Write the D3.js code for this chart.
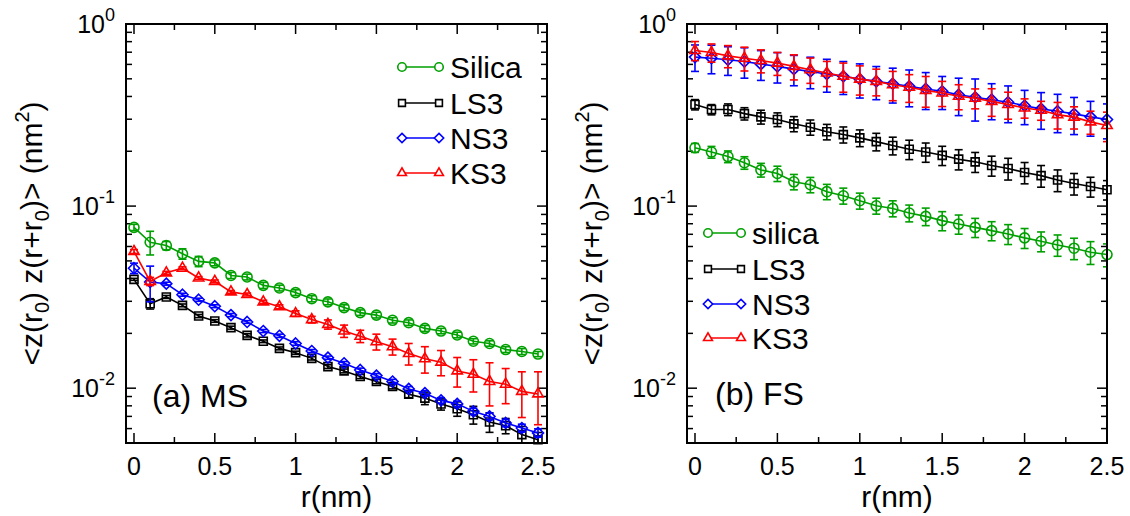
<!DOCTYPE html>
<html><head><meta charset="utf-8">
<script src="https://cdn.jsdelivr.net/npm/d3@7"></script>
<style>
body{margin:0;background:#fff}
svg{display:block}
text{font-family:"Liberation Sans",Arial,Helvetica,sans-serif;fill:#000}
</style>
</head><body>
<svg id="chart" width="1130" height="516"></svg>
<script>
// ---------- data ----------
const rValues = [0,0.1,0.2,0.3,0.4,0.5,0.6,0.7,0.8,0.9,1.0,1.1,1.2,1.3,1.4,1.5,1.6,1.7,1.8,1.9,2.0,2.1,2.2,2.3,2.4,2.5];
const seriesNamesMS = ["Silica","LS3","NS3","KS3"];
const seriesNamesFS = ["silica","LS3","NS3","KS3"];
const seriesColors = ["#00a000","#000000","#0000ff","#ff0000"];
const seriesSymbols = ["circle","square","diamond","triangle"];
const xTickLabels = ["0","0.5","1","1.5","2","2.5"];
const xTickValues = [0,0.5,1,1.5,2,2.5];
const yTickExponents = ["0","-1","-2"];
const yTickValues = [1,0.1,0.01];

// (a) MS
const msSilica = [0.0764,0.0633,0.0607,0.0547,0.0497,0.0488,0.0416,0.0408,0.0367,0.0355,0.0335,0.0310,0.0298,0.0277,0.0260,0.0252,0.0236,0.0229,0.0213,0.0206,0.0196,0.0181,0.0176,0.0163,0.0159,0.0154];
const msSilicaErr = [0.0030,0.0094,0.0032,0.0036,0.0032,0.0018,0.0016,0.0015,0.0014,0.0013,0.0012,0.0012,0.0011,0.0010,0.0009,0.0009,0.0008,0.0008,0.0008,0.0007,0.0007,0.0006,0.0006,0.0006,0.0006,0.0005];
const msLS3 = [0.0396,0.0291,0.0317,0.0285,0.0249,0.0234,0.0215,0.0195,0.0181,0.01654,0.01567,0.01458,0.01314,0.01244,0.01159,0.01088,0.01021,0.00927,0.00882,0.00818,0.00771,0.00715,0.00652,0.00622,0.00556,0.00521];
const msLS3Err = [0.0005,0.0019,0.0006,0.0005,0.0005,0.0004,0.0004,0.0004,0.0003,0.0003,0.0003,0.0003,0.0003,0.0003,0.0003,0.0003,0.0003,0.0004,0.0007,0.0006,0.0007,0.0008,0.0008,0.0006,0.0006,0.0005];
const msNS3 = [0.0456,0.0383,0.0375,0.0326,0.0306,0.0282,0.0252,0.0231,0.0206,0.0194,0.0176,0.0160,0.01471,0.01370,0.01259,0.01173,0.01088,0.00991,0.00939,0.00857,0.0082,0.00746,0.0070,0.00644,0.00604,0.00568];
const msNS3Err = [0.0030,0.0085,0.0007,0.0006,0.0006,0.0005,0.0005,0.0004,0.0004,0.0004,0.0004,0.0003,0.0003,0.0003,0.0003,0.0003,0.0003,0.0003,0.0003,0.0003,0.0003,0.0003,0.0003,0.0003,0.0003,0.0003];
const msKS3 = [0.0563,0.0386,0.0430,0.0456,0.0403,0.0386,0.0338,0.0327,0.0298,0.0280,0.0257,0.0238,0.0224,0.0206,0.0193,0.0180,0.0169,0.0155,0.0145,0.0139,0.01244,0.01193,0.01089,0.01052,0.0096,0.0093];
const msKS3Err = [0.0014,0.0020,0.0008,0.0008,0.0007,0.0007,0.0006,0.0006,0.0006,0.0007,0.0009,0.0010,0.0013,0.0016,0.0015,0.0018,0.0017,0.0021,0.0024,0.0022,0.0023,0.0024,0.0029,0.0023,0.0027,0.0030];

// (b) FS
const fsSilica = [0.209,0.198,0.187,0.173,0.158,0.151,0.136,0.131,0.120,0.114,0.107,0.1004,0.0971,0.0916,0.0878,0.0832,0.0797,0.0764,0.0733,0.0703,0.0669,0.0641,0.0612,0.0587,0.0558,0.0542];
const fsSilicaErr = [0.0117,0.0147,0.0138,0.0137,0.0137,0.0146,0.0132,0.0127,0.0116,0.0115,0.0108,0.0101,0.0098,0.0097,0.0097,0.0100,0.0096,0.0092,0.0088,0.0088,0.0084,0.0080,0.0082,0.0079,0.0080,0.0078];
const fsLS3 = [0.361,0.339,0.339,0.322,0.309,0.299,0.283,0.271,0.256,0.247,0.237,0.226,0.215,0.205,0.198,0.190,0.181,0.175,0.167,0.161,0.153,0.147,0.139,0.133,0.128,0.123];
const fsLS3Err = [0.0235,0.022,0.025,0.025,0.027,0.026,0.027,0.026,0.025,0.025,0.025,0.025,0.024,0.025,0.024,0.023,0.023,0.022,0.021,0.022,0.0205,0.020,0.019,0.018,0.016,0.015];
const fsNS3 = [0.658,0.649,0.636,0.622,0.602,0.585,0.565,0.549,0.531,0.516,0.498,0.484,0.470,0.455,0.440,0.427,0.409,0.396,0.384,0.372,0.356,0.342,0.332,0.321,0.309,0.299];
const fsNS3Err = [0.109,0.116,0.114,0.118,0.112,0.111,0.107,0.108,0.109,0.106,0.106,0.100,0.102,0.104,0.101,0.088,0.095,0.103,0.086,0.085,0.076,0.078,0.079,0.074,0.067,0.065];
const fsKS3 = [0.715,0.697,0.668,0.649,0.630,0.610,0.585,0.561,0.538,0.516,0.498,0.484,0.464,0.449,0.432,0.418,0.401,0.391,0.376,0.361,0.346,0.336,0.318,0.308,0.290,0.277];
const fsKS3Err = [0.086,0.080,0.093,0.097,0.091,0.088,0.092,0.089,0.085,0.094,0.091,0.081,0.085,0.078,0.083,0.066,0.063,0.049,0.065,0.061,0.042,0.040,0.053,0.043,0.042,0.051];

// ---------- drawing ----------
const svg = d3.select("#chart");
const FONT_TICK = 25, FONT_SUP = 18, FONT_TITLE = 30, FONT_LEGEND = 30, FONT_PANEL = 32;

const panels = [
  {id:"a", box:{l:126,r:547,t:24,b:443}, xDomain:[-0.0495,2.5557],
   values:[msSilica,msLS3,msNS3,msKS3], errs:[msSilicaErr,msLS3Err,msNS3Err,msKS3Err],
   names:seriesNamesMS, legend:{x1:402,x2:439,tx:450,ys:[67,103,138,173]},
   label:"(a) MS", labelPos:[152,407], titleX:42},
  {id:"b", box:{l:687,r:1107,t:24,b:443}, xDomain:[-0.0485,2.5],
   values:[fsSilica,fsLS3,fsNS3,fsKS3], errs:[fsSilicaErr,fsLS3Err,fsNS3Err,fsKS3Err],
   names:seriesNamesFS, legend:{x1:708,x2:741,tx:752,ys:[233,269,304,338]},
   label:"(b) FS", labelPos:[715,405], titleX:602}
];

function symbolPath(kind, s){
  if(kind==="circle"){ const r=5*s; return `M${-r},0A${r},${r} 0 1,0 ${r},0A${r},${r} 0 1,0 ${-r},0Z`; }
  if(kind==="square"){ const h=4*s; return `M${-h},${-h}H${h}V${h}H${-h}Z`; }
  if(kind==="diamond"){ const h=5.5*s; return `M0,${-h}L${h},0L0,${h}L${-h},0Z`; }
  const a=6*s; return `M0,${-a}L${a*0.866},${a*0.5}L${-a*0.866},${a*0.5}Z`;
}

panels.forEach(p=>{
  const B=p.box;
  const x = d3.scaleLinear().domain(p.xDomain).range([B.l,B.r]);
  const y = d3.scaleLog().domain([0.005,1]).range([B.b,B.t]);
  const g = svg.append("g");

  const clipId = "clip-"+p.id;
  svg.append("defs").append("clipPath").attr("id",clipId)
    .append("rect").attr("x",B.l).attr("y",B.t).attr("width",B.r-B.l).attr("height",B.b-B.t);

  // ticks (inside, on all four sides)
  const xMajor = xTickValues;
  const xMinor = [0.25,0.75,1.25,1.75,2.25];
  const tk = g.append("g").attr("stroke","#000").attr("stroke-width",1.5);
  xMajor.forEach(v=>{
    tk.append("line").attr("x1",x(v)).attr("x2",x(v)).attr("y1",B.b).attr("y2",B.b-10);
    tk.append("line").attr("x1",x(v)).attr("x2",x(v)).attr("y1",B.t).attr("y2",B.t+10);
  });
  xMinor.forEach(v=>{
    tk.append("line").attr("x1",x(v)).attr("x2",x(v)).attr("y1",B.b).attr("y2",B.b-6);
    tk.append("line").attr("x1",x(v)).attr("x2",x(v)).attr("y1",B.t).attr("y2",B.t+6);
  });
  const yMinor = [];
  [0.001,0.01,0.1].forEach(d=>{ for(let k=2;k<=9;k++){ const v=k*d; if(v>=0.005-1e-9 && v<1) yMinor.push(v);} });
  yTickValues.forEach(v=>{
    tk.append("line").attr("x1",B.l).attr("x2",B.l+10).attr("y1",y(v)).attr("y2",y(v));
    tk.append("line").attr("x1",B.r).attr("x2",B.r-10).attr("y1",y(v)).attr("y2",y(v));
  });
  yMinor.forEach(v=>{
    tk.append("line").attr("x1",B.l).attr("x2",B.l+6).attr("y1",y(v)).attr("y2",y(v));
    tk.append("line").attr("x1",B.r).attr("x2",B.r-6).attr("y1",y(v)).attr("y2",y(v));
  });

  // x tick labels
  xTickValues.forEach((v,i)=>{
    g.append("text").attr("x",x(v)).attr("y",475).attr("text-anchor","middle")
      .attr("font-size",FONT_TICK).text(xTickLabels[i]);
  });
  // y tick labels
  yTickValues.forEach((v,i)=>{
    const t = g.append("text").attr("x",B.l-11).attr("y",y(v)+9).attr("text-anchor","end").attr("font-size",FONT_TICK);
    t.append("tspan").text("10");
    t.append("tspan").attr("dy",-12).attr("font-size",FONT_SUP).text(yTickExponents[i]);
  });

  // axis titles
  g.append("text").attr("x",(B.l+B.r)/2).attr("y",507).attr("text-anchor","middle")
    .attr("font-size",FONT_TITLE).text("r(nm)");
  const yt = g.append("text").attr("transform",`translate(${p.titleX},${(B.t+B.b)/2}) rotate(-90)`)
    .attr("text-anchor","middle").attr("font-size",FONT_TITLE);
  yt.append("tspan").text("<z(r");
  yt.append("tspan").attr("dy",7).attr("font-size",20).text("0");
  yt.append("tspan").attr("dy",-7).text(") z(r+r");
  yt.append("tspan").attr("dy",7).attr("font-size",20).text("0");
  yt.append("tspan").attr("dy",-7).text(")> (nm");
  yt.append("tspan").attr("dy",-13).attr("font-size",20).text("2");
  yt.append("tspan").attr("dy",13).text(")");

  // series
  p.values.forEach((vals,si)=>{
    const col = seriesColors[si];
    const errs = p.errs[si];
    const sg = g.append("g");
    // error bars
    const eg = sg.append("g").attr("clip-path",`url(#${clipId})`).attr("stroke",col).attr("stroke-width",1.6);
    vals.forEach((v,i)=>{
      const xx = x(rValues[i]);
      const lo = Math.max(v-errs[i],0.004), hi = v+errs[i];
      eg.append("line").attr("x1",xx).attr("x2",xx).attr("y1",y(lo)).attr("y2",y(hi));
      eg.append("line").attr("x1",xx-4).attr("x2",xx+4).attr("y1",y(lo)).attr("y2",y(lo));
      eg.append("line").attr("x1",xx-4).attr("x2",xx+4).attr("y1",y(hi)).attr("y2",y(hi));
    });
    // line
    const line = d3.line().x((d,i)=>x(rValues[i])).y(d=>y(d));
    sg.append("path").attr("d",line(vals)).attr("fill","none").attr("stroke",col).attr("stroke-width",1.6);
    // markers
    sg.selectAll("path.m").data(vals).enter().append("path").attr("class","m")
      .attr("transform",(d,i)=>`translate(${x(rValues[i])},${y(d)})`)
      .attr("d",symbolPath(seriesSymbols[si],1))
      .attr("fill","none").attr("stroke",col).attr("stroke-width",1.6);
  });

  // legend
  const L = p.legend;
  p.names.forEach((nm,si)=>{
    const col = seriesColors[si];
    const yy = L.ys[si];
    g.append("line").attr("x1",L.x1).attr("x2",L.x2).attr("y1",yy).attr("y2",yy).attr("stroke",col).attr("stroke-width",1.6);
    [L.x1,L.x2].forEach(xx=>{
      g.append("path").attr("transform",`translate(${xx},${yy})`).attr("d",symbolPath(seriesSymbols[si],0.85))
        .attr("fill","#fff").attr("stroke",col).attr("stroke-width",1.6);
    });
    g.append("text").attr("x",L.tx).attr("y",yy+11).attr("font-size",FONT_LEGEND).text(nm);
  });

  // panel label
  g.append("text").attr("x",p.labelPos[0]).attr("y",p.labelPos[1]).attr("font-size",FONT_PANEL).text(p.label);

  // frame
  g.append("rect").attr("x",B.l).attr("y",B.t).attr("width",B.r-B.l).attr("height",B.b-B.t)
    .attr("fill","none").attr("stroke","#000").attr("stroke-width",2);
});
</script>
</body></html>
